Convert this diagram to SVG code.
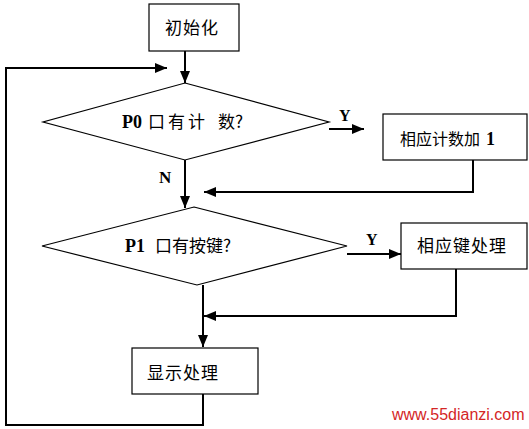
<svg xmlns="http://www.w3.org/2000/svg" width="529" height="429" viewBox="0 0 529 429">
<style>
.box{fill:#fff;stroke:#000;stroke-width:1.2}
.dia{fill:#fff;stroke:#000;stroke-width:1.2}
.ln{fill:none;stroke:#000;stroke-width:2}
.cn{font-family:"Noto Sans CJK SC",sans-serif;font-size:17px;fill:#000}
.lt{font-family:"Liberation Serif",serif;font-weight:bold;font-size:18px;fill:#000}
.lb{font-family:"Liberation Serif",serif;font-weight:bold;font-size:16px;fill:#000}
.wm{font-family:"Liberation Sans",sans-serif;font-size:16px;fill:#d42626}
</style>
<defs>
<marker id="ah" viewBox="0 0 12 10" refX="12" refY="5" markerWidth="12" markerHeight="10" markerUnits="userSpaceOnUse" orient="auto">
<path d="M0,0 L12,5 L0,10 Z" fill="#000"/>
</marker>
</defs>
<rect width="529" height="429" fill="#fff"/>
<g id="connectors">
<line class="ln" x1="185" y1="51" x2="185" y2="83" marker-end="url(#ah)"/>
<polyline class="ln" points="203,394 203,425 6,425 6,68 167,68" marker-end="url(#ah)"/>
<line class="ln" x1="329" y1="129" x2="364" y2="129" marker-end="url(#ah)"/>
<polyline class="ln" points="473,160 473,192 204,192" marker-end="url(#ah)"/>
<line class="ln" x1="185" y1="160" x2="185" y2="208" marker-end="url(#ah)"/>
<line class="ln" x1="347" y1="254" x2="401" y2="254" marker-end="url(#ah)"/>
<polyline class="ln" points="456,269 456,316 204,316" marker-end="url(#ah)"/>
<line class="ln" x1="203" y1="285" x2="203" y2="347" marker-end="url(#ah)"/>
<text class="lb" x="339" y="121">Y</text>
<text class="lb" x="159" y="183" style="font-size:17px">N</text>
<text class="lb" x="366" y="245">Y</text>
</g>
<g id="init">
<rect class="box" x="149" y="4" width="90" height="47"/>
<text class="cn" x="165" y="34" letter-spacing="1">初始化</text>
</g>
<g id="p0">
<polygon class="dia" points="185,83 329,122 185,160 43,122"/>
<text x="122" y="128"><tspan class="lt">P0</tspan><tspan class="cn" x="148" letter-spacing="3">口有计</tspan><tspan class="cn" x="218">数?</tspan></text>
</g>
<g id="count">
<rect class="box" x="383" y="114" width="144" height="46"/>
<text x="400" y="145"><tspan class="cn" style="font-size:16px">相应计数加</tspan><tspan class="lt" x="486">1</tspan></text>
</g>
<g id="p1">
<polygon class="dia" points="194,207 347,246 197,285 42,246"/>
<text x="125" y="252"><tspan class="lt">P1</tspan><tspan class="cn" x="155">口有按键?</tspan></text>
</g>
<g id="key">
<rect class="box" x="401" y="223" width="126" height="46"/>
<text class="cn" x="417" y="252" letter-spacing="1">相应键处理</text>
</g>
<g id="display">
<rect class="box" x="132" y="348" width="126" height="46"/>
<text class="cn" x="147" y="379" letter-spacing="1">显示处理</text>
</g>
<text class="wm" x="392" y="420">www.55dianzi.com</text>
</svg>
